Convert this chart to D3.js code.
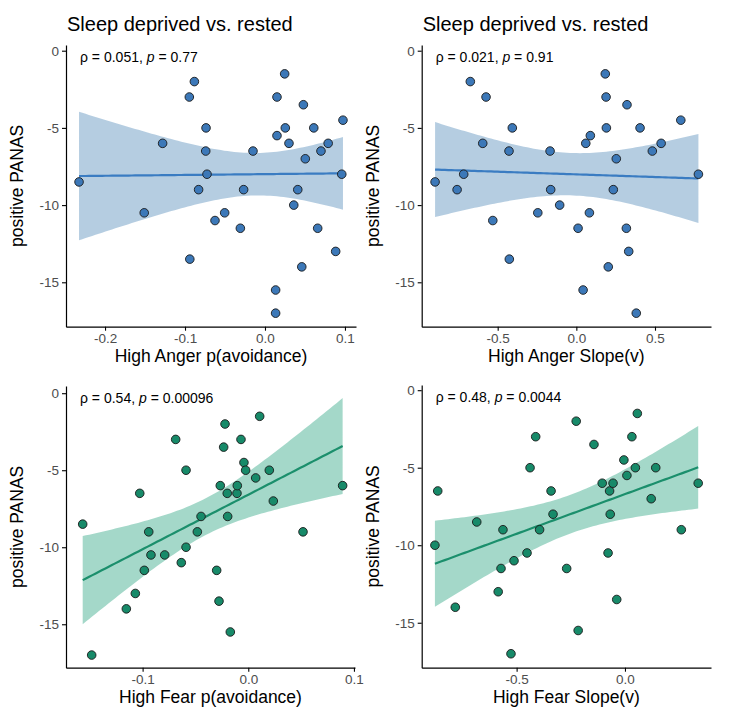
<!DOCTYPE html>
<html><head><meta charset="utf-8">
<script src="https://cdn.jsdelivr.net/npm/d3@7"></script>
<style>body{margin:0;background:#fff;} text{font-family:"Liberation Sans",Arial,sans-serif;}</style>
</head><body><svg id="chart" width="729" height="726"></svg>
<script>
// ---------- data ----------
const panelTitles = ["Sleep deprived vs. rested", "Sleep deprived vs. rested", "", ""];
const xTitles = ["High Anger p(avoidance)", "High Anger Slope(v)", "High Fear p(avoidance)", "High Fear Slope(v)"];
const yTitle = "positive PANAS";
const rhoText = ["0.051", "0.021", "0.54", "0.48"];
const pText = ["0.77", "0.91", "0.00096", "0.0044"];
const xTicks = [[-0.2, -0.1, 0.0, 0.1], [-0.5, 0.0, 0.5], [-0.1, 0.0, 0.1], [-0.5, 0.0]];
const yTicks = [0, -5, -10, -15];

const angerAvoidX = [-0.2325,-0.151,-0.128,-0.0946,-0.0883,-0.094,-0.0737,-0.0741,-0.0725,-0.083,-0.0625,-0.0504,-0.0308,-0.0267,-0.015,0.0133,0.0133,0.015,0.015,0.0246,0.0254,0.030,0.041,0.036,0.048,0.0504,0.046,0.061,0.0659,0.070,0.079,0.0884,0.0975,0.096];
const angerAvoidY = [-8.5,-10.5,-6,-3,-2,-13.5,-5,-6.5,-8,-9,-11,-10.5,-11.5,-9,-6.5,-15.5,-17,-3,-5.5,-1.5,-5,-6,-9,-10,-3.5,-7,-14,-5,-11.5,-6.5,-6,-13,-4.5,-8];

const angerSlopeX = [-0.898,-0.758,-0.716,-0.674,-0.574,-0.595,-0.531,-0.407,-0.428,-0.426,-0.245,-0.167,-0.163,-0.106,0.011,0.043,0.060,0.089,0.083,0.184,0.189,0.191,0.203,0.235,0.254,0.322,0.318,0.333,0.381,0.405,0.483,0.539,0.664,0.776];
const angerSlopeY = [-8.5,-9,-8,-2,-3,-6,-11,-5,-6.5,-13.5,-10.5,-6.5,-9,-10,-11.5,-15.5,-6,-5.5,-10.5,-1.5,-3,-5,-14,-9,-7,-3.5,-11.5,-13,-17,-5,-6.5,-6,-4.5,-8];

const fearAvoidX = [-0.1567,-0.1482,-0.1154,-0.1069,-0.1027,-0.0984,-0.0942,-0.0921,-0.0791,-0.0687,-0.0634,-0.0589,-0.0589,-0.0482,-0.0447,-0.0299,-0.0277,-0.0265,-0.0233,-0.0220,-0.0199,-0.0195,-0.0170,-0.0107,-0.0104,-0.0069,-0.0041,-0.0025,0.0070,0.0108,0.0199,0.0237,0.0518,0.0893];
const fearAvoidY = [-8.5,-17,-14,-13,-6.5,-11.5,-9,-10.5,-10.5,-3,-11,-5,-10,-9,-8,-11.5,-13.5,-6,-3.5,-2,-6.5,-8,-15.5,-6.5,-6,-3,-4.5,-5,-5.5,-1.5,-5,-7,-9,-6];

const fearSlopeX = [-0.877,-0.864,-0.783,-0.684,-0.585,-0.572,-0.563,-0.526,-0.512,-0.452,-0.438,-0.412,-0.394,-0.341,-0.332,-0.269,-0.225,-0.216,-0.143,-0.105,-0.078,-0.071,-0.068,-0.055,-0.038,-0.005,0.009,0.032,0.048,0.057,0.121,0.142,0.260,0.338];
const fearSlopeY = [-10,-6.5,-14,-8.5,-13,-11.5,-9,-17,-11,-10.5,-5,-3,-9,-6.5,-8,-11.5,-2,-15.5,-3.5,-6,-10.5,-6.5,-8,-6,-13.5,-4.5,-5.5,-3,-5,-1.5,-7,-5,-9,-6];

const seriesX = [angerAvoidX, angerSlopeX, fearAvoidX, fearSlopeX];
const seriesY = [angerAvoidY, angerSlopeY, fearAvoidY, fearSlopeY];

// ---------- layout / style ----------
const boxes = [
  {l:66, r:356, t:45, b:326.7, xd:[-0.2488, 0.1138], yd:[-17.876, 0.369]},
  {l:421.7, r:711, t:45, b:326.7, xd:[-0.983, 0.856], yd:[-17.876, 0.369]},
  {l:66, r:355, t:386, b:667.7, xd:[-0.1725, 0.101], yd:[-17.82, 0.468]},
  {l:421.7, r:711, t:385, b:667.7, xd:[-0.938, 0.397], yd:[-17.90, 0.335]}
];
const colors = [
  {pt:"#3C78B8", line:"#3A7CC2", band:"#4682B4"},
  {pt:"#3C78B8", line:"#3A7CC2", band:"#4682B4"},
  {pt:"#178A69", line:"#1B8F6C", band:"#1B9E77"},
  {pt:"#178A69", line:"#1B8F6C", band:"#1B9E77"}
];

const svg = d3.select("#chart");

function lmFit(xs, ys) {
  const n = xs.length;
  const mx = d3.mean(xs), my = d3.mean(ys);
  let sxx = 0, sxy = 0;
  for (let i = 0; i < n; i++) { sxx += (xs[i]-mx)**2; sxy += (xs[i]-mx)*(ys[i]-my); }
  const b = sxy / sxx, a = my - b*mx;
  let sse = 0;
  for (let i = 0; i < n; i++) sse += (ys[i] - a - b*xs[i])**2;
  const s = Math.sqrt(sse/(n-2));
  const t = 2.0369; // t(0.975, 32)
  const lo = d3.min(xs), hi = d3.max(xs);
  const pts = d3.range(0, 81).map(k => {
    const x = lo + (hi-lo)*k/80;
    const yh = a + b*x;
    const se = s*Math.sqrt(1/n + (x-mx)**2/sxx);
    return {x, y: yh, y0: yh - t*se, y1: yh + t*se};
  });
  return pts;
}

boxes.forEach((bx, i) => {
  const x = d3.scaleLinear().domain(bx.xd).range([bx.l, bx.r]);
  const y = d3.scaleLinear().domain(bx.yd).range([bx.b, bx.t]);
  const g = svg.append("g");
  const clipId = "clip" + i;
  svg.append("clipPath").attr("id", clipId).append("rect")
    .attr("x", bx.l).attr("y", bx.t).attr("width", bx.r - bx.l).attr("height", bx.b - bx.t);

  const fit = lmFit(seriesX[i], seriesY[i]);
  const pg = g.append("g").attr("clip-path", `url(#${clipId})`);
  pg.append("path").datum(fit)
    .attr("d", d3.area().x(d => x(d.x)).y0(d => y(d.y0)).y1(d => y(d.y1)))
    .attr("fill", colors[i].band).attr("fill-opacity", 0.4);
  pg.append("path").datum(fit)
    .attr("d", d3.line().x(d => x(d.x)).y(d => y(d.y)))
    .attr("fill", "none").attr("stroke", colors[i].line).attr("stroke-width", 2.2);

  g.selectAll("circle.pt").data(seriesX[i].map((v, k) => [v, seriesY[i][k]]))
    .enter().append("circle")
    .attr("cx", d => x(d[0])).attr("cy", d => y(d[1])).attr("r", 4.3)
    .attr("fill", colors[i].pt).attr("stroke", "#1a1a1a").attr("stroke-width", 0.9);

  // axes
  const xa = g.append("g").attr("transform", `translate(0,${bx.b})`)
    .call(d3.axisBottom(x).tickValues(xTicks[i]).tickFormat(d3.format(".1f")).tickSize(4).tickSizeOuter(0).tickPadding(3));
  const ya = g.append("g").attr("transform", `translate(${bx.l},0)`)
    .call(d3.axisLeft(y).tickValues(yTicks).tickFormat(d3.format("d")).tickSize(4).tickSizeOuter(0).tickPadding(3));
  [xa, ya].forEach(a => {
    a.select(".domain").attr("stroke", "#000").attr("stroke-width", 1.2);
    a.selectAll(".tick line").attr("stroke", "#000").attr("stroke-width", 1.1);
    a.selectAll(".tick text").attr("fill", "#4D4D4D").style("font-size", "13.5px")
      .style("font-family", "'Liberation Sans', Arial, sans-serif");
  });
  xa.selectAll(".tick text").text(d => d3.format(".1f")(d).replace("−", "-"));
  ya.selectAll(".tick text").text(d => String(d).replace("−", "-"));

  // titles
  svg.append("text").attr("x", (bx.l + bx.r)/2).attr("y", bx.b + 35)
    .attr("text-anchor", "middle").style("font-size", "17.5px").attr("fill", "#000").text(xTitles[i]);
  svg.append("text").attr("transform", `translate(${bx.l - 43},${(bx.t + bx.b)/2}) rotate(-90)`)
    .attr("text-anchor", "middle").style("font-size", "17.5px").attr("fill", "#000").text(yTitle);
  if (panelTitles[i]) {
    svg.append("text").attr("x", bx.l + 1).attr("y", 31)
      .style("font-size", "20px").attr("fill", "#000").text(panelTitles[i]);
  }
  const lab = svg.append("text").attr("x", bx.l + 14).attr("y", bx.t + 17)
    .style("font-size", "14px").attr("fill", "#000");
  lab.append("tspan").text("ρ = " + rhoText[i] + ", ");
  lab.append("tspan").style("font-style", "italic").text("p");
  lab.append("tspan").text(" = " + pText[i]);
});
</script>
</body></html>
